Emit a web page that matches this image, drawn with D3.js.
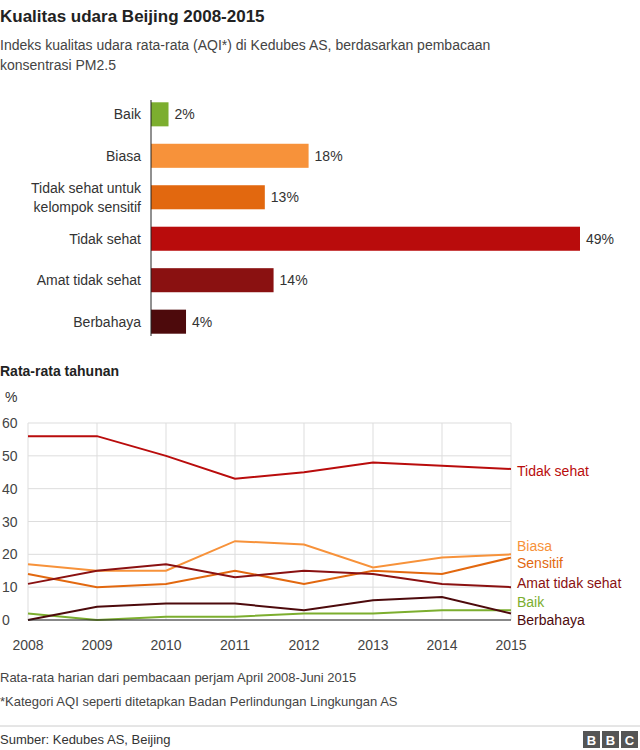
<!DOCTYPE html><html><head><meta charset="utf-8"><script src="https://cdn.jsdelivr.net/npm/d3@7"></script>
<style>body{margin:0;background:#fff;font-family:Helvetica,Arial,"Liberation Sans",sans-serif}</style></head><body><svg id="c" width="640" height="750"></svg>
<script>
const barCats=["Baik","Biasa","Tidak sehat untuk\nkelompok sensitif","Tidak sehat","Amat tidak sehat","Berbahaya"];
const barVals=[2,18,13,49,14,4];
const colors=["#7cae2f","#f7923a","#e2680f","#b90c0c","#8a1111","#4d0a0c"];
const years=[2008,2009,2010,2011,2012,2013,2014,2015];
const seriesNames=["Tidak sehat","Biasa","Sensitif","Amat tidak sehat","Baik","Berbahaya"];
const seriesColorIdx=[3,1,2,4,0,5];
const s_tidak=[56,56,50,43,45,48,47,46];
const s_biasa=[17,15,15,24,23,16,19,20];
const s_sens=[14,10,11,15,11,15,14,19];
const s_amat=[11,15,17,13,15,14,11,10];
const s_baik=[2,0,1,1,2,2,3,3];
const s_berb=[0,4,5,5,3,6,7,2];
const seriesVals=[s_tidak,s_biasa,s_sens,s_amat,s_baik,s_berb];
const labelY=[471,546,563,583,602,620];
const yTicks=[0,10,20,30,40,50,60];

const svg=d3.select("#c");
const T=(x,y,t,o={})=>svg.append("text").attr("x",x).attr("y",y).text(t).attr("font-size",o.s||14).attr("fill",o.f||"#222").attr("font-weight",o.w||"normal").attr("text-anchor",o.a||"start");
T(0,22,"Kualitas udara Beijing 2008-2015",{s:17,w:"bold"});
T(0,50,"Indeks kualitas udara rata-rata (AQI*) di Kedubes AS, berdasarkan pembacaan",{s:14,f:"#444"});
T(0,70,"konsentrasi PM2.5",{s:14,f:"#444"});

const x=d3.scaleLinear().domain([0,49]).range([151,580]);
const yb=d3.scaleBand().domain(d3.range(6)).range([94,342]).paddingInner(0.42).paddingOuter(0.2);
barVals.forEach((v,i)=>{
  svg.append("rect").attr("x",x(0)).attr("y",yb(i)).attr("width",x(v)-x(0)).attr("height",yb.bandwidth()).attr("fill",colors[i]);
  T(x(v)+6,yb(i)+yb.bandwidth()/2+5,v+"%",{f:"#333"});
  const lines=barCats[i].split("\n");
  lines.forEach((l,j)=>T(141,yb(i)+yb.bandwidth()/2+5+(j-(lines.length-1)/2)*19,l,{a:"end",f:"#333"}));
});
svg.append("line").attr("x1",151).attr("x2",151).attr("y1",100).attr("y2",336).attr("stroke","#222");

T(0,376,"Rata-rata tahunan",{s:14,w:"bold"});
T(5,402,"%",{f:"#333"});
const lx=d3.scaleLinear().domain([2008,2015]).range([28,511]);
const ly=d3.scaleLinear().domain([0,60]).range([620,423]);
yTicks.forEach(t=>{svg.append("line").attr("x1",28).attr("x2",511).attr("y1",ly(t)).attr("y2",ly(t)).attr("stroke","#ddd");
  T(2,ly(t)+5,t,{f:"#444"});});
years.forEach(yr=>{svg.append("line").attr("x1",lx(yr)).attr("x2",lx(yr)).attr("y1",423).attr("y2",620).attr("stroke","#ddd");
  T(lx(yr),650,yr,{a:"middle",f:"#444"});});
const line=d3.line().x((d,i)=>lx(years[i])).y(d=>ly(d));
seriesVals.forEach((vals,k)=>{
  svg.append("path").attr("d",line(vals)).attr("fill","none").attr("stroke",colors[seriesColorIdx[k]]).attr("stroke-width",2);
  T(517,labelY[k]+5,seriesNames[k],{f:colors[seriesColorIdx[k]]});
});
svg.append("line").attr("x1",28).attr("x2",511).attr("y1",620).attr("y2",620).attr("stroke","#222").attr("stroke-width",1.2);

T(0,682,"Rata-rata harian dari pembacaan perjam April 2008-Juni 2015",{s:13,f:"#444"});
T(0,706,"*Kategori AQI seperti ditetapkan Badan Perlindungan Lingkungan AS",{s:13,f:"#444"});
svg.append("line").attr("x1",0).attr("x2",640).attr("y1",726).attr("y2",726).attr("stroke","#ccc");
T(0,744,"Sumber: Kedubes AS, Beijing",{s:13,f:"#333"});
["B","B","C"].forEach((c,i)=>{svg.append("rect").attr("x",583+i*19).attr("y",731).attr("width",17).attr("height",17).attr("fill","#555");
  T(591.5+i*19,745,c,{s:13,w:"bold",f:"#fff",a:"middle"});});
</script></body></html>
